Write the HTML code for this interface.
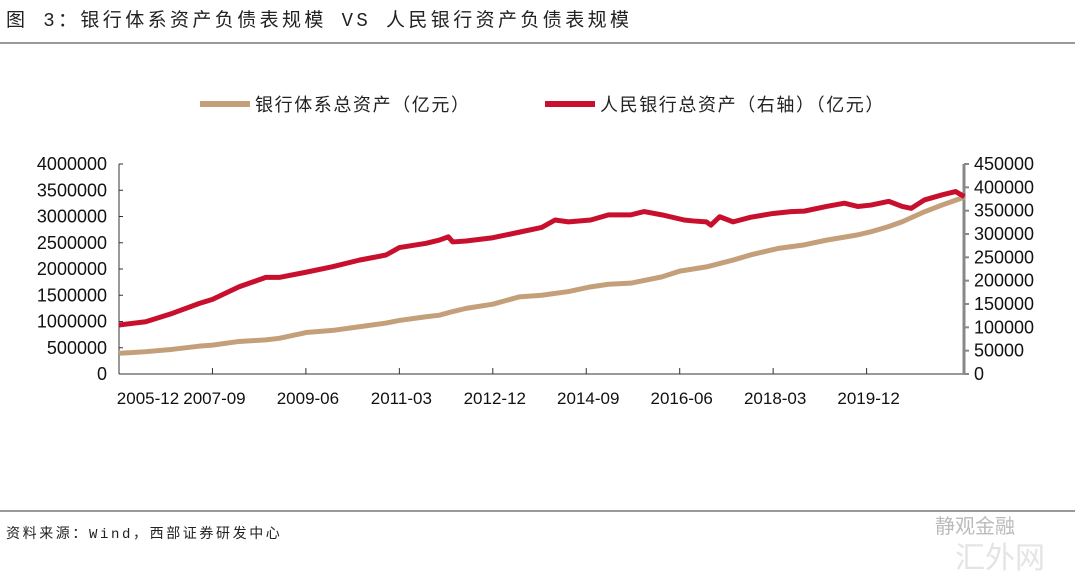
<!DOCTYPE html>
<html><head><meta charset="utf-8">
<style>
body{margin:0;background:#fff;width:1080px;height:577px;overflow:hidden;font-family:"Liberation Sans","Noto Sans CJK SC",sans-serif;}
</style></head>
<body>
<svg width="1080" height="577" xmlns="http://www.w3.org/2000/svg">
<text x="6" y="26" font-size="19" letter-spacing="3.4" fill="#222" font-family="Liberation Mono,Noto Sans CJK SC,monospace">图 3：银行体系资产负债表规模 VS 人民银行资产负债表规模</text>
<line x1="0" y1="43" x2="1075" y2="43" stroke="#333" stroke-width="1"/>
<g>
<line x1="200" y1="104" x2="250" y2="104" stroke="#c4a07a" stroke-width="6"/>
<text x="255" y="111" font-size="18" letter-spacing="1.6" fill="#222">银行体系总资产（亿元）</text>
<line x1="545" y1="104" x2="595" y2="104" stroke="#c8102e" stroke-width="6"/>
<text x="600" y="111" font-size="18" letter-spacing="1.6" fill="#222">人民银行总资产（右轴）（亿元）</text>
</g>
<g id="plot"></g>
<line x1="0" y1="511" x2="1075" y2="511" stroke="#333" stroke-width="1"/>
<text x="6" y="538" font-size="14" letter-spacing="2.6" fill="#222" font-family="Liberation Mono,Noto Sans CJK SC,monospace">资料来源：Wind，西部证券研发中心</text>
<text x="935" y="533" font-size="20" fill="#bbb">静观金融</text>
<text x="955" y="568" font-size="30" fill="#e4e4e4">汇外网</text>
</svg>
<script>
const xTickLabels=["2005-12","2007-09","2009-06","2011-03","2012-12","2014-09","2016-06","2018-03","2019-12"];
const leftTicks=[0,500000,1000000,1500000,2000000,2500000,3000000,3500000,4000000];
const rightTicks=[0,50000,100000,150000,200000,250000,300000,350000,400000,450000];
const bankMonths=[0,6,12,18,21,27,33,36,41,42,48,54,60,63,69,72,75,78,84,90,95,101,106,110,115,122,126,132,138,142,148,154,159,166,169,173,176,181,185,188,190];
const bankValues=[394000,425000,470000,530000,550000,620000,650000,680000,770000,790000,830000,900000,970000,1020000,1090000,1120000,1190000,1250000,1330000,1470000,1500000,1570000,1660000,1710000,1730000,1850000,1960000,2040000,2170000,2270000,2390000,2460000,2550000,2650000,2710000,2810000,2900000,3090000,3220000,3310000,3370000];
const pbocMonths=[0,6,12,18,21,27,33,36,42,48,54,60,63,69,72,74,75,78,84,90,95,98,101,106,110,115,118,122,127,129,132,133,135,138,142,147,151,154,159,163,166,169,173,176,178,181,185,188,190];
const pbocValues=[105000,112000,130000,151000,160000,187000,207000,207000,218000,230000,244000,255000,271000,280000,287000,294000,283000,285000,292000,304000,314000,330000,326000,330000,341000,341000,348000,341000,330000,328000,326000,319000,337000,326000,336000,344000,348000,349000,359000,366000,359000,362000,370000,359000,355000,373000,384000,391000,380000];
const X0=119,X1=964,Y0=374,Y1=164,PPM=4.45;
const x=m=>X0+m*PPM;
const yL=v=>Y0-(v/4000000)*(Y0-Y1);
const yR=v=>Y0-(v/450000)*(Y0-Y1);
const NS="http://www.w3.org/2000/svg";
const g=document.getElementById('plot');
function mk(t,a){const e=document.createElementNS(NS,t);for(const k in a)e.setAttribute(k,a[k]);g.appendChild(e);return e;}
let e=mk('line',{x1:X0,y1:Y0,x2:X0,y2:Y1,stroke:'#333','stroke-width':1});


e=mk('line',{x1:X0,y1:Y0,x2:X1,y2:Y0,stroke:'#333','stroke-width':1});


e=mk('line',{x1:X1,y1:Y0,x2:X1,y2:Y1,stroke:'#888','stroke-width':3});


leftTicks.forEach(v=>{
 const t=mk('line',{x1:X0,y1:yL(v),x2:X0+4,y2:yL(v),stroke:'#333'});
 
 
 const l=mk('text',{x:107,y:yL(v)+6,'font-size':18,'text-anchor':'end',fill:'#111'});
 l.textContent=v;
 
 
});
rightTicks.forEach(v=>{
 const t=mk('line',{x1:X1,y1:yR(v),x2:X1+5,y2:yR(v),stroke:'#888','stroke-width':2});
 
 
 const l=mk('text',{x:974,y:yR(v)+6,'font-size':18,fill:'#111'});
 l.textContent=v;
 
 
});
xTickLabels.forEach((s,i)=>{
 const m=i*21;
 if(i>0){const t=mk('line',{x1:x(m),y1:Y0,x2:x(m),y2:Y0-6,stroke:'#333'});
 
 }
 const l=mk('text',{x:i==0?148:x(m)+2,y:404,'font-size':17,'text-anchor':'middle',fill:'#111'});
 l.textContent=s;
 
 
});
let p=mk('polyline',{points:bankMonths.map((m,i)=>x(m)+','+yL(bankValues[i])).join(' '),fill:'none',stroke:'#c4a07a','stroke-width':5,'stroke-linejoin':'round'});


p=mk('polyline',{points:pbocMonths.map((m,i)=>x(m)+','+yR(pbocValues[i])).join(' '),fill:'none',stroke:'#c8102e','stroke-width':5,'stroke-linejoin':'round'});


</script>
</body></html>
